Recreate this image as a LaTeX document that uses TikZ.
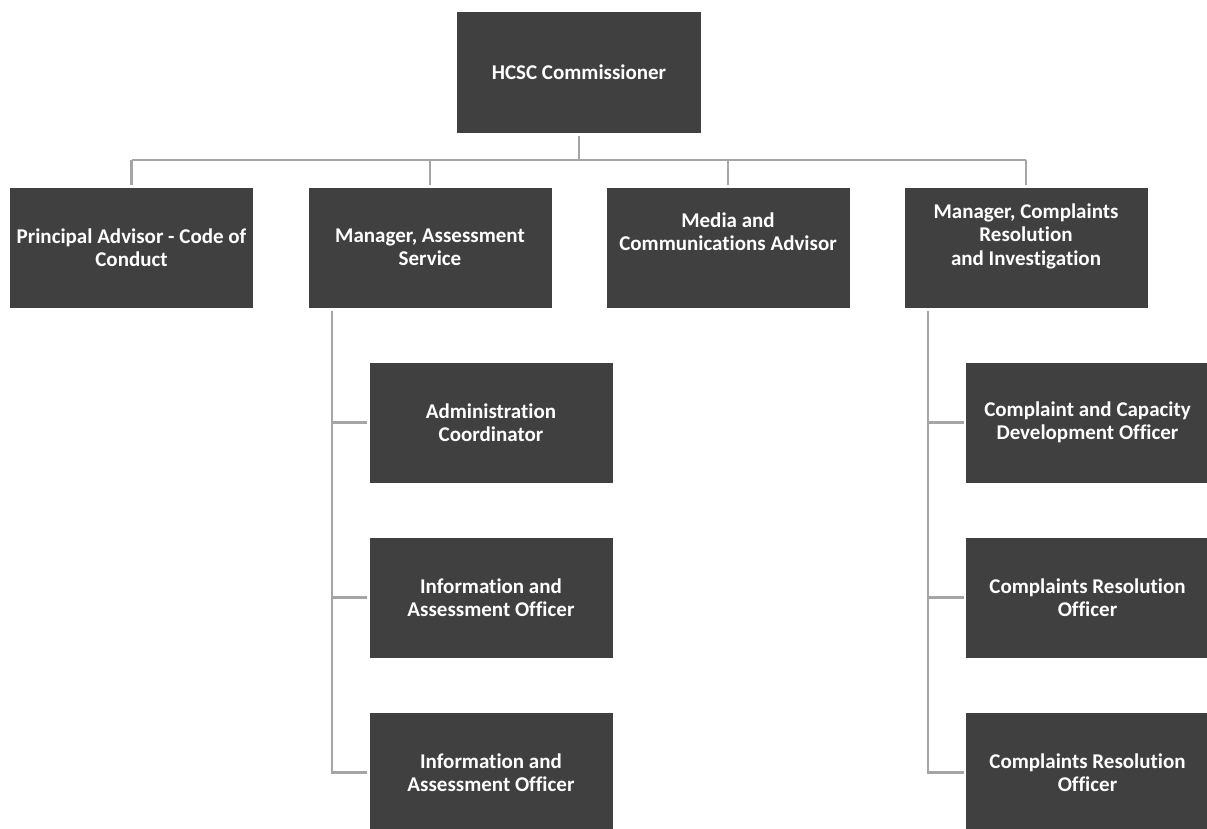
\documentclass[tikz,border=0pt]{standalone}
\usepackage{fontspec}
\setmainfont{Carlito}[Ligatures={NoCommon}]
\definecolor{boxfill}{HTML}{404040}
\definecolor{linecol}{HTML}{A5A5A5}
\begin{document}
\begin{tikzpicture}[x=1pt,y=-1pt,
  box/.style={draw=none,fill=boxfill,minimum width=243pt,minimum height=120pt,inner sep=0pt,outer sep=0pt},
  txt/.style={text=white,font=\fontsize{21}{23.5}\selectfont\bfseries,align=center,inner sep=0pt},
  conn/.style={draw=linecol,line width=2.8pt}]
\useasboundingbox (0,0) rectangle (1207,828);
% top
\node[box,minimum width=244pt,minimum height=121pt] (top) at (579,72.5) {};
\node[txt] (ttop) at (top.center) {HCSC Commissioner};
% second row
\node[box] (b1) at (131.5,247.5) {};
\node[txt] (t1) at (b1.center) {Principal Advisor - Code of\\Conduct};
\node[box] (b2) at (430,247.5) {};
\node[txt] (t2) at (b2.center) {Manager, Assessment\\Service};
\node[box] (b3) at (728,247.5) {};
\node[txt] (t3) at ([yshift=16pt]b3.center) {Media and\\Communications Advisor};
\node[box] (b4) at (1026,247.5) {};
\node[txt] (t4) at ([yshift=11.5pt]b4.center) {Manager, Complaints\\Resolution\\and Investigation};
% left children
\node[box] (c1) at (491,422.5) {};
\node[txt] (tc1) at (c1.center) {Administration\\Coordinator};
\node[box] (c2) at (491,597.5) {};
\node[txt] (tc2) at (c2.center) {Information and\\Assessment Officer};
\node[box] (c3) at (491,772.5) {};
\node[txt] (tc3) at (c3.center) {Information and\\Assessment Officer};
% right children
\node[box] (d1) at (1087.5,422.5) {};
\node[txt] (td1) at (d1.center) {Complaint and Capacity\\Development Officer};
\node[box] (d2) at (1087.5,597.5) {};
\node[txt] (td2) at (d2.center) {Complaints Resolution\\Officer};
\node[box] (d3) at (1087.5,772.5) {};
\node[txt] (td3) at (d3.center) {Complaints Resolution\\Officer};
% connectors
\coordinate (bus) at (0,160);
\draw[conn] ([yshift=-3pt]top.south) -- (top.south |- bus);
\draw[conn] (b1.north |- bus) -- (b4.north |- bus);
\foreach \b in {b1,b2,b3,b4}{
  \draw[conn] (\b.north |- bus) -- ([yshift=3pt]\b.north);
}
\coordinate (lv) at ([xshift=23.5pt,yshift=-3.5pt]b2.south west);
\draw[conn] (lv) |- ([xshift=-2.5pt]c3.west);
\draw[conn] (lv |- c1.west) -- ([xshift=-2.5pt]c1.west);
\draw[conn] (lv |- c2.west) -- ([xshift=-2.5pt]c2.west);
\coordinate (rv) at ([xshift=23.5pt,yshift=-3.5pt]b4.south west);
\draw[conn] (rv) |- ([xshift=-2.5pt]d3.west);
\draw[conn] (rv |- d1.west) -- ([xshift=-2.5pt]d1.west);
\draw[conn] (rv |- d2.west) -- ([xshift=-2.5pt]d2.west);
\end{tikzpicture}
\end{document}
